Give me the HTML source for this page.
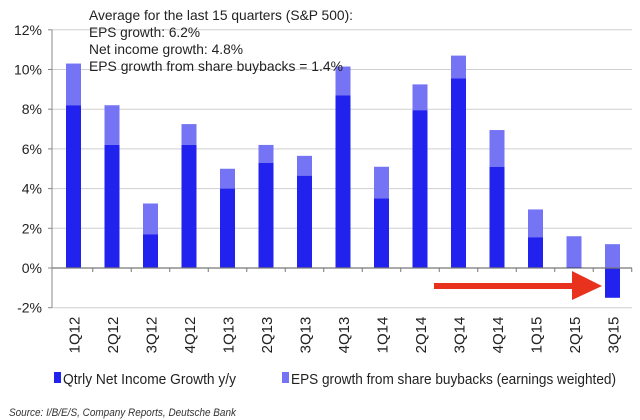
<!DOCTYPE html>
<html><head><meta charset="utf-8"><style>
body{margin:0;background:#fff;}
svg{display:block;font-family:"Liberation Sans",sans-serif;}
</style></head><body>
<svg id="chart" width="640" height="420" viewBox="0 0 640 420" xmlns="http://www.w3.org/2000/svg"></svg>
<script>
const categories=["1Q12","2Q12","3Q12","4Q12","1Q13","2Q13","3Q13","4Q13","1Q14","2Q14","3Q14","4Q14","1Q15","2Q15","3Q15"];
const netIncome=[8.2,6.2,1.7,6.2,4.0,5.3,4.65,8.7,3.5,7.95,9.55,5.1,1.55,0.05,-1.5];
const buyback=[2.1,2.0,1.55,1.05,1.0,0.9,1.0,1.45,1.6,1.3,1.15,1.85,1.4,1.55,1.2];
const yTicks=[-2,0,2,4,6,8,10,12];
const yTickLabels=["-2%","0%","2%","4%","6%","8%","10%","12%"];

const svg=document.getElementById('chart');
const NS="http://www.w3.org/2000/svg";
function y(v){return 268-v*19.85;}
function xc(i){return 73.5+i*38.5;}
function mk(tag,attrs,parent){const e=document.createElementNS(NS,tag);for(const k in attrs)e.setAttribute(k,attrs[k]);(parent||svg).appendChild(e);return e;}

yTicks.forEach((t,i)=>{
  if(t!==0){const g=mk('line',{x1:52,x2:632,y1:y(t),y2:y(t),stroke:'#cfcfcf','stroke-width':1});
  
  }
  const tk=mk('line',{x1:48,x2:52,y1:y(t),y2:y(t),stroke:'#888'});
  
  
  const l=mk('text',{x:42,y:y(t)+5,'text-anchor':'end','font-size':14,fill:'#222'});
  l.textContent=yTickLabels[i];
  
  
});
const ya=mk('line',{x1:52,x2:52,y1:y(12),y2:y(-2),stroke:'#888'});



categories.forEach((c,i)=>{
  const n=netIncome[i],b=buyback[i];
  const x0=xc(i)-7.5;
  const base=n>=0?n:0;
  const lb=mk('rect',{x:x0,y:y(base+b),width:15,height:y(base)-y(base+b),fill:'#7474f4'});
  
  
  const top=Math.max(n,0),bot=Math.min(n,0);
  const db=mk('rect',{x:x0,y:y(top),width:15,height:y(bot)-y(top),fill:'#2222ee'});
  
  
  const t=mk('text',{transform:`translate(${xc(i)+6},335) rotate(-90)`,'text-anchor':'middle','font-size':15,fill:'#222'});
  t.textContent=c;
  
  
  const tx=xc(i)+19.25;
  const tk=mk('line',{x1:tx,x2:tx,y1:268,y2:272,stroke:'#777'});
  
  
});
const xa=mk('line',{x1:52,x2:632,y1:268,y2:268,stroke:'#777','stroke-width':1.3});


</script>
<svg style="position:absolute;left:0;top:0" width="640" height="420">
<g font-family="Liberation Sans, sans-serif" font-size="14" fill="#222">
<text x="89" y="20" textLength="264" lengthAdjust="spacingAndGlyphs">Average for the last 15 quarters (S&amp;P 500):</text>
<text x="89" y="37" textLength="111" lengthAdjust="spacingAndGlyphs">EPS growth: 6.2%</text>
<text x="89" y="54" textLength="154" lengthAdjust="spacingAndGlyphs">Net income growth: 4.8%</text>
<text x="89" y="71" textLength="254" lengthAdjust="spacingAndGlyphs">EPS growth from share buybacks =  1.4%</text>
</g>
<g>
<rect x="434" y="283" width="140" height="6" fill="#e8321e"/>
<polygon points="572,271 602,286 572,300" fill="#e8321e"/>
</g>
<g font-family="Liberation Sans, sans-serif" font-size="15" fill="#222">
<rect x="54" y="372" width="7" height="11" fill="#2222ee"/>
<text x="63" y="384" textLength="173" lengthAdjust="spacingAndGlyphs">Qtrly Net Income Growth y/y</text>
<rect x="282" y="372" width="7" height="11" fill="#7474f4"/>
<text x="291" y="384" textLength="325" lengthAdjust="spacingAndGlyphs">EPS growth from share buybacks (earnings weighted)</text>
</g>
<text x="9" y="416" font-family="Liberation Sans, sans-serif" font-size="11" font-style="italic" fill="#333" textLength="227" lengthAdjust="spacingAndGlyphs">Source: I/B/E/S, Company Reports, Deutsche Bank</text>
</svg>
</body></html>
